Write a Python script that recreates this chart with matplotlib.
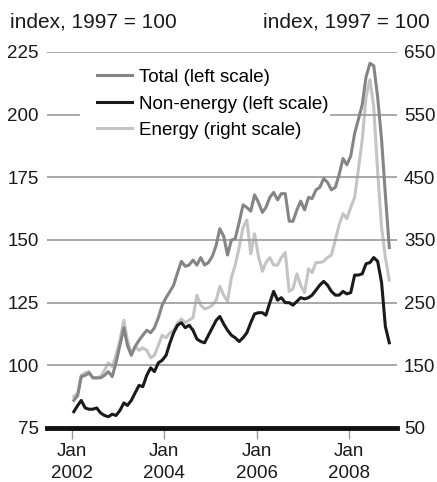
import matplotlib
matplotlib.use('Agg')
import matplotlib.pyplot as plt
import pandas as pd

plt.rcParams['font.family'] = ['Liberation Sans', 'DejaVu Sans']

# monthly data, Jan 2002 - Nov 2008
months = pd.date_range('2002-01-01', periods=83, freq='MS') + pd.Timedelta(days=14)

total = [86, 88, 95.5, 96, 97, 95, 95, 95, 96, 97.5, 95.5, 101,
         108, 115, 108, 104, 107.5, 110, 112, 114, 113, 115, 119, 124,
         127, 129.5, 132, 137, 141.5, 139.5, 140, 142, 140, 143, 140, 141,
         143.5, 148, 154.5, 151.5, 144, 150, 150.5, 157, 164, 163, 161.5, 168,
         165, 161, 163, 167, 169, 166, 168.5, 168.5, 157.5, 157.5, 162, 165.5,
         162, 167, 166.5, 170, 171, 174.5, 173, 170, 171, 176, 182.5, 180,
         183.5, 192.5, 198, 204, 215, 220.5, 219.5, 207, 190, 168, 147]

non_energy = [81.5, 84, 86, 83, 82.5, 82.5, 83, 81, 80, 79.5, 80.5, 80,
              82, 85, 84, 86, 89, 92, 91.5, 96, 99, 97.5, 101, 102,
              104, 109, 113, 116, 117, 115, 116, 114, 110.5, 109.5, 109, 112,
              115, 118, 119.5, 116.5, 114, 112, 111, 109.5, 111, 113, 117, 120.5,
              121, 121, 120, 125, 129.5, 126, 127, 125, 125, 124, 125.5, 127,
              126.5, 127, 128, 130, 132, 133.5, 132, 129.5, 128, 128, 129.5, 128.5,
              129, 136, 136, 136.5, 140.5, 141, 143, 141.5, 133, 115.5, 109]

energy = [100, 106, 134, 138, 140, 130, 130, 132, 142, 154, 148, 166,
          190, 222, 190, 168, 180, 174, 178, 174, 162, 166, 182, 198,
          194, 202, 206, 218, 224, 218, 222, 226, 262, 246, 240, 242,
          246, 254, 276, 262, 252, 290, 310, 338, 370, 382, 328, 360,
          324, 300, 314, 322, 310, 310, 322, 330, 268, 272, 296, 278,
          266, 304, 298, 314, 314, 316, 322, 326, 350, 374, 392, 384,
          402, 418, 462, 510, 578, 606, 562, 458, 370, 322, 286]

left_ticks = [75, 100, 125, 150, 175, 200, 225]
right_ticks = [50, 150, 250, 350, 450, 550, 650]
x_ticks = pd.to_datetime(['2002-01-01', '2004-01-01', '2006-01-01', '2008-01-01'])
x_labels = ['Jan\n2002', 'Jan\n2004', 'Jan\n2006', 'Jan\n2008']

fig = plt.figure(figsize=(4.37, 4.82), dpi=100)
ax = fig.add_axes([47 / 437, 1 - 428 / 482, 350 / 437, 376 / 482])
ax2 = ax.twinx()

grid_col = '#9a9a9a'
for v in left_ticks[1:]:
    if v == 200:
        ax.axhline(v, xmin=0, xmax=0.09, color=grid_col, lw=1.2, zorder=0)
        ax.axhline(v, xmin=0.81, xmax=1, color=grid_col, lw=1.2, zorder=0)
    else:
        ax.axhline(v, color=grid_col, lw=1.2, zorder=0)

l_en, = ax2.plot(months, energy, color='#c4c4c4', lw=2.2, label='Energy (right scale)')
l_tot, = ax.plot(months, total, color='#858585', lw=2.2, label='Total (left scale)', zorder=3)
l_non, = ax.plot(months, non_energy, color='#1a1a1a', lw=2.2, label='Non-energy (left scale)', zorder=3)
ax.axhline(75, color='#111111', lw=3.5, zorder=5, clip_on=False)

ax.set_zorder(ax2.get_zorder() + 1)
ax.patch.set_visible(False)

ax.set_ylim(75, 225)
ax2.set_ylim(50, 650)
ax.set_xlim(pd.Timestamp('2001-06-17'), pd.Timestamp('2009-01-15'))

ax.set_yticks(left_ticks)
ax2.set_yticks(right_ticks)
ax.tick_params(axis='y', length=0, pad=6, labelsize=13.5, colors='#1a1a1a')
ax2.tick_params(axis='y', length=0, pad=5, labelsize=13.5, colors='#1a1a1a')

ax.set_xticks(x_ticks)
ax.set_xticklabels(x_labels, linespacing=1.35)
ax.tick_params(axis='x', length=8, width=1, color=grid_col, pad=3, labelsize=13.5, labelcolor='#1a1a1a')

for a in (ax, ax2):
    for s in a.spines.values():
        s.set_visible(False)

ax.legend(handles=[l_tot, l_non, l_en], loc='upper left', bbox_to_anchor=(0.12, 0.975),
          frameon=False, fontsize=13.5, handlelength=1.9, handletextpad=0.35,
          labelspacing=0.5, borderaxespad=0)

fig.text(10 / 437, 1 - 22 / 482, 'index, 1997 = 100', fontsize=15, va='center', ha='left', color='#1a1a1a')
fig.text(430 / 437, 1 - 22 / 482, 'index, 1997 = 100', fontsize=15, va='center', ha='right', color='#1a1a1a')

fig.savefig('out.png', dpi=100)
